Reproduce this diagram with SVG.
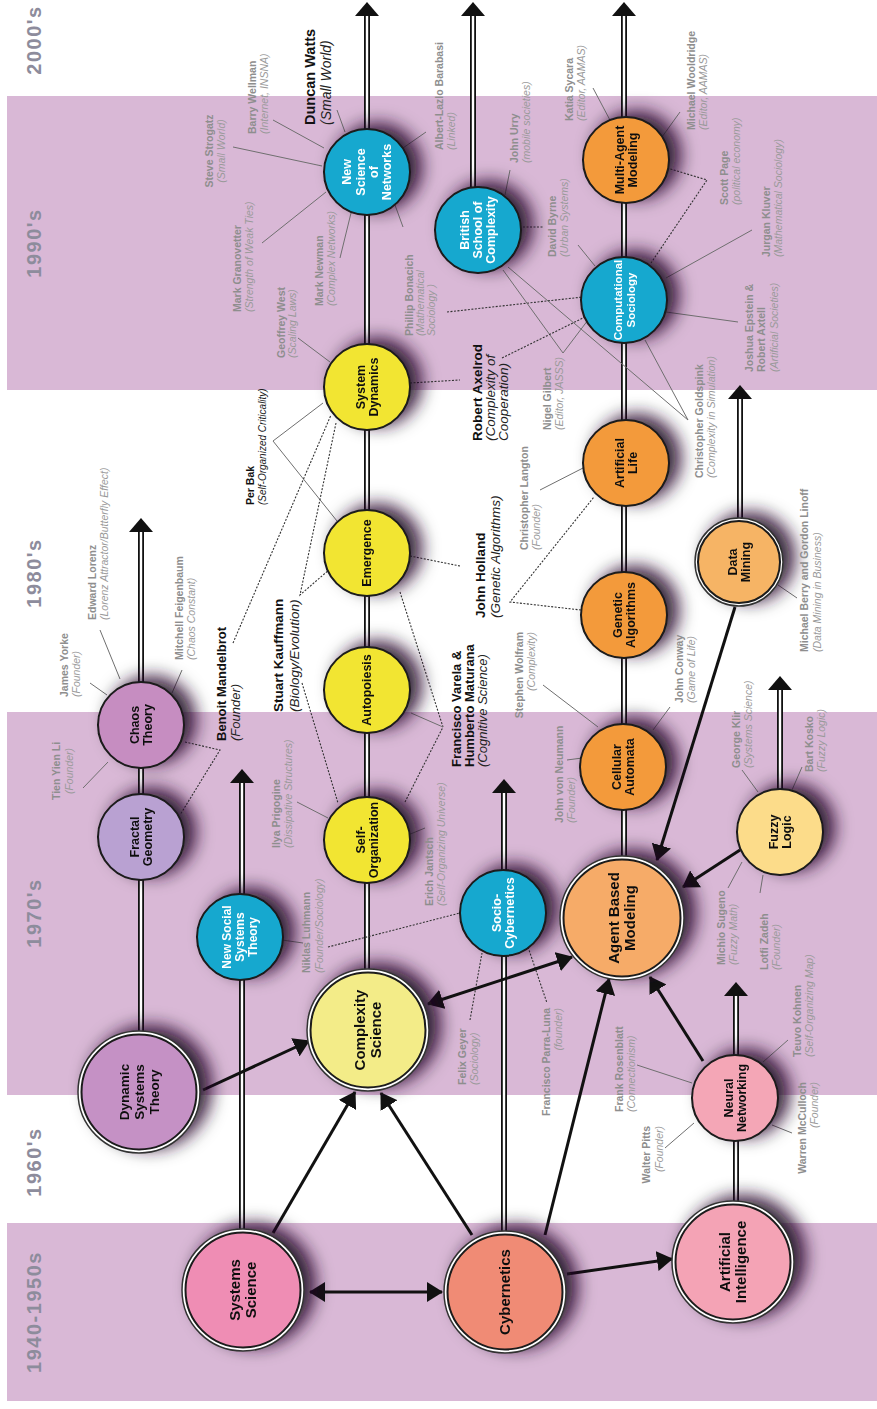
<svg xmlns="http://www.w3.org/2000/svg" xmlns:xlink="http://www.w3.org/1999/xlink" width="877" height="1409" viewBox="0 0 877 1409">
<style>
.band{fill:#d9b8d6}
.dec{font-family:"Liberation Sans",Arial,sans-serif;font-weight:bold;font-size:20px;fill:#8d8c9c;text-anchor:middle;letter-spacing:1.5px}
.trk{stroke:#111;stroke-width:6}
.trw{stroke:#fff;stroke-width:2.4}
.thick{stroke:#111;stroke-width:3;fill:none}
.lk{stroke:#6f6f6f;stroke-width:1;fill:none}
.ld{stroke:#333;stroke-width:1.1;stroke-dasharray:2 1.5;fill:none}
.nt{font-family:"Liberation Sans",Arial,sans-serif;font-weight:bold;font-size:12.5px;text-anchor:middle;fill:#111}
.big .nt{font-size:15px}
.w{fill:#fff}
.ring{fill:#fff;stroke:#333;stroke-width:1.5}
.inn{stroke:#1a1a1a;stroke-width:2}
.pn{font-family:"Liberation Sans",Arial,sans-serif;font-weight:bold;font-size:10.5px;fill:#8e8e8e}
.ps{font-family:"Liberation Sans",Arial,sans-serif;font-style:italic;font-size:10.5px;fill:#9a9a9a}
.bn{font-family:"Liberation Sans",Arial,sans-serif;font-weight:bold;font-size:13.5px;fill:#111}
.bs{font-family:"Liberation Sans",Arial,sans-serif;font-style:italic;font-size:13.5px;fill:#222}
.am{text-anchor:middle}
.ae{text-anchor:end}
</style>
<defs>
<filter id="sh" x="-70%" y="-70%" width="240%" height="240%">
<feGaussianBlur in="SourceAlpha" stdDeviation="8.5"/>
<feOffset dx="11" dy="-5" result="b"/>
<feFlood flood-color="#220a26" flood-opacity="0.9"/>
<feComposite in2="b" operator="in"/>
<feMerge><feMergeNode/><feMergeNode in="SourceGraphic"/></feMerge>
</filter>
<path id="tip" d="M0,0 L12,14 L-12,14 Z" fill="#111"/>
<marker id="ah" viewBox="0 0 16 20" refX="15" refY="10" markerWidth="16" markerHeight="20" markerUnits="userSpaceOnUse" orient="auto-start-reverse">
<path d="M0,0 L16,10 L0,20 Z" fill="#111"/>
</marker>
</defs>

<g id="background">
<rect x="0" y="0" width="877" height="1409" fill="#fff"/>
<rect class="band" x="7" y="96" width="870" height="294"/>
<rect class="band" x="7" y="712" width="870" height="383"/>
<rect class="band" x="7" y="1223" width="870" height="178"/>
<text class="dec" transform="translate(41,40) rotate(-90)">2000's</text>
<text class="dec" transform="translate(41,243) rotate(-90)">1990's</text>
<text class="dec" transform="translate(41,573) rotate(-90)">1980's</text>
<text class="dec" transform="translate(41,913) rotate(-90)">1970's</text>
<text class="dec" transform="translate(41,1162) rotate(-90)">1960's</text>
<text class="dec" transform="translate(41,1312) rotate(-90)">1940-1950s</text>
</g>

<g id="connectors">
<g id="tracks">
<line class="trk" x1="141" y1="1040" x2="141" y2="531"/><line class="trw" x1="141" y1="1040" x2="141" y2="531"/><use href="#tip" x="141" y="518"/>
<line class="trk" x1="242" y1="1235" x2="242" y2="782"/><line class="trw" x1="242" y1="1235" x2="242" y2="782"/><use href="#tip" x="242" y="769"/>
<line class="trk" x1="367" y1="975" x2="367" y2="15"/><line class="trw" x1="367" y1="975" x2="367" y2="15"/><use href="#tip" x="367" y="2"/>
<line class="trk" x1="504" y1="1235" x2="504" y2="792"/><line class="trw" x1="504" y1="1235" x2="504" y2="792"/><use href="#tip" x="504" y="779"/>
<line class="trk" x1="473" y1="200" x2="473" y2="15"/><line class="trw" x1="473" y1="200" x2="473" y2="15"/><use href="#tip" x="473" y="2"/>
<line class="trk" x1="624" y1="860" x2="624" y2="15"/><line class="trw" x1="624" y1="860" x2="624" y2="15"/><use href="#tip" x="624" y="2"/>
<line class="trk" x1="740" y1="525" x2="740" y2="398"/><line class="trw" x1="740" y1="525" x2="740" y2="398"/><use href="#tip" x="740" y="385"/>
<line class="trk" x1="780" y1="795" x2="780" y2="689"/><line class="trw" x1="780" y1="795" x2="780" y2="689"/><use href="#tip" x="780" y="676"/>
<line class="trk" x1="736" y1="1205" x2="736" y2="995"/><line class="trw" x1="736" y1="1205" x2="736" y2="995"/><use href="#tip" x="736" y="982"/>
</g>
<g id="links">
<line class="lk" x1="337" y1="110" x2="345" y2="132"/>
<line class="lk" x1="273" y1="120" x2="324" y2="148"/>
<line class="lk" x1="233" y1="147" x2="322" y2="166"/>
<line class="lk" x1="262" y1="243" x2="326" y2="192"/>
<line class="lk" x1="340" y1="258" x2="351" y2="213"/>
<line class="lk" x1="426" y1="132" x2="403" y2="148"/>
<line class="lk" x1="395" y1="205" x2="403" y2="227"/>
<line class="ld" x1="447" y1="312" x2="583" y2="297"/>
<line class="lk" x1="298" y1="338" x2="330" y2="362"/>
<line class="lk" x1="510" y1="170" x2="505" y2="195"/>
<line class="lk" x1="593" y1="88" x2="611" y2="122"/>
<line class="lk" x1="680" y1="112" x2="662" y2="137"/>
<polyline class="ld" points="667,168 707,180 651,263"/>
<line class="lk" x1="752" y1="230" x2="666" y2="278"/>
<line class="lk" x1="738" y1="322" x2="666" y2="312"/>
<line class="ld" x1="523" y1="227" x2="543" y2="227"/>
<line class="lk" x1="578" y1="245" x2="595" y2="266"/>
<polyline class="lk" points="503,270 563,353 588,320"/>
<polyline class="lk" points="508,267 688,420 645,340"/>
<line class="ld" x1="410" y1="383" x2="460" y2="380"/>
<line class="ld" x1="502" y1="358" x2="585" y2="317"/>
<line class="lk" x1="540" y1="490" x2="585" y2="467"/>
<line class="ld" x1="410" y1="556" x2="460" y2="566"/>
<polyline class="ld" points="581,610 510,602 594,497"/>
<line class="lk" x1="778" y1="585" x2="797" y2="598"/>
<polyline class="lk" points="323,403 273,441 337,521"/>
<line class="ld" x1="233" y1="643" x2="331" y2="415"/>
<polyline class="ld" points="185,742 220,750 180,815"/>
<polyline class="ld" points="336,423 300,595 330,569"/>
<line class="ld" x1="302" y1="683" x2="338" y2="803"/>
<line class="ld" x1="400" y1="592" x2="443" y2="727"/>
<line class="lk" x1="411" y1="713" x2="443" y2="727"/>
<line class="ld" x1="405" y1="802" x2="443" y2="727"/>
<line class="lk" x1="297" y1="802" x2="328" y2="818"/>
<line class="lk" x1="408" y1="835" x2="425" y2="828"/>
<line class="lk" x1="282" y1="940" x2="303" y2="943"/>
<line class="ld" x1="328" y1="947" x2="460" y2="913"/>
<line class="ld" x1="470" y1="1020" x2="482" y2="953"/>
<line class="ld" x1="528" y1="947" x2="547" y2="1003"/>
<line class="lk" x1="543" y1="685" x2="598" y2="727"/>
<line class="lk" x1="567" y1="760" x2="582" y2="758"/>
<line class="lk" x1="670" y1="707" x2="653" y2="730"/>
<line class="lk" x1="742" y1="770" x2="758" y2="792"/>
<line class="lk" x1="802" y1="767" x2="792" y2="790"/>
<line class="lk" x1="728" y1="888" x2="742" y2="862"/>
<line class="lk" x1="760" y1="893" x2="763" y2="875"/>
<line class="lk" x1="788" y1="1040" x2="763" y2="1062"/>
<line class="lk" x1="637" y1="1065" x2="692" y2="1083"/>
<line class="lk" x1="665" y1="1148" x2="694" y2="1123"/>
<line class="lk" x1="792" y1="1133" x2="772" y2="1125"/>
<line class="lk" x1="83" y1="788" x2="108" y2="762"/>
<line class="lk" x1="90" y1="683" x2="107" y2="695"/>
<line class="lk" x1="100" y1="630" x2="120" y2="679"/>
<line class="lk" x1="182" y1="670" x2="172" y2="693"/>
</g>
<g id="arrows">
<line class="thick" x1="310" y1="1292" x2="442" y2="1292" marker-start="url(#ah)" marker-end="url(#ah)"/>
<line class="thick" x1="273" y1="1233" x2="355" y2="1092" marker-end="url(#ah)"/>
<line class="thick" x1="472" y1="1235" x2="381" y2="1093" marker-end="url(#ah)"/>
<line class="thick" x1="203" y1="1090" x2="309" y2="1041" marker-end="url(#ah)"/>
<line class="thick" x1="428" y1="1004" x2="572" y2="957" marker-start="url(#ah)" marker-end="url(#ah)"/>
<line class="thick" x1="545" y1="1235" x2="609" y2="979" marker-end="url(#ah)"/>
<line class="thick" x1="703" y1="1061" x2="650" y2="977" marker-end="url(#ah)"/>
<line class="thick" x1="567" y1="1274" x2="672" y2="1259" marker-end="url(#ah)"/>
<line class="thick" x1="735" y1="607" x2="657" y2="860" marker-end="url(#ah)"/>
<line class="thick" x1="740" y1="850" x2="683" y2="887" marker-end="url(#ah)"/>
</g>
</g>

<g id="nodes">
<g id="n-networks" filter="url(#sh)"><circle class="inn" cx="367" cy="172" r="43" fill="#15a8cf"/><text class="nt w" transform="translate(367,172) rotate(-90)"><tspan x="0" y="-15.8">New</tspan><tspan x="0" y="-2.5">Science</tspan><tspan x="0" y="10.9">of</tspan><tspan x="0" y="24.2">Networks</tspan></text></g>
<g id="n-british" filter="url(#sh)"><circle class="inn" cx="478" cy="230" r="43" fill="#15a8cf"/><text class="nt w" transform="translate(478,230) rotate(-90)"><tspan x="0" y="-8.8">British</tspan><tspan x="0" y="4.2">School of</tspan><tspan x="0" y="17.2">Complexity</tspan></text></g>
<g id="n-multiagent" filter="url(#sh)"><circle class="inn" cx="626" cy="160" r="43" fill="#f39a3b"/><text class="nt" transform="translate(626,160) rotate(-90)"><tspan x="0" y="-2.3">Multi-Agent</tspan><tspan x="0" y="10.7">Modeling</tspan></text></g>
<g id="n-compsoc" filter="url(#sh)"><circle class="inn" cx="624" cy="300" r="43" fill="#15a8cf"/><text class="nt w" style="font-size:11.5px" transform="translate(624,300) rotate(-90)"><tspan x="0" y="-2.3">Computational</tspan><tspan x="0" y="10.7">Sociology</tspan></text></g>
<g id="n-sysdyn" filter="url(#sh)"><circle class="inn" cx="367" cy="387" r="43" fill="#f2e533"/><text class="nt" transform="translate(367,387) rotate(-90)"><tspan x="0" y="-2.3">System</tspan><tspan x="0" y="10.7">Dynamics</tspan></text></g>
<g id="n-emergence" filter="url(#sh)"><circle class="inn" cx="367" cy="553" r="43" fill="#f2e533"/><text class="nt" transform="translate(367,553) rotate(-90)"><tspan x="0" y="4.4">Emergence</tspan></text></g>
<g id="n-autopoiesis" filter="url(#sh)"><circle class="inn" cx="367" cy="690" r="43" fill="#f2e533"/><text class="nt" transform="translate(367,690) rotate(-90)"><tspan x="0" y="4.4">Autopoiesis</tspan></text></g>
<g id="n-selforg" filter="url(#sh)"><circle class="inn" cx="367" cy="840" r="43" fill="#f2e533"/><text class="nt" transform="translate(367,840) rotate(-90)"><tspan x="0" y="-2.3">Self-</tspan><tspan x="0" y="10.7">Organization</tspan></text></g>
<g id="n-chaos" filter="url(#sh)"><circle class="inn" cx="141" cy="725" r="43" fill="#c68dc1"/><text class="nt" transform="translate(141,725) rotate(-90)"><tspan x="0" y="-2.3">Chaos</tspan><tspan x="0" y="10.7">Theory</tspan></text></g>
<g id="n-fractal" filter="url(#sh)"><circle class="inn" cx="141" cy="837" r="43" fill="#b9a1d2"/><text class="nt" transform="translate(141,837) rotate(-90)"><tspan x="0" y="-2.3">Fractal</tspan><tspan x="0" y="10.7">Geometry</tspan></text></g>
<g id="n-newsocial" filter="url(#sh)"><circle class="inn" cx="240" cy="937" r="43" fill="#15a8cf"/><text class="nt w" style="font-size:12px" transform="translate(240,937) rotate(-90)"><tspan x="0" y="-8.8">New Social</tspan><tspan x="0" y="4.2">Systems</tspan><tspan x="0" y="17.2">Theory</tspan></text></g>
<g id="n-sociocyb" filter="url(#sh)"><circle class="inn" cx="503" cy="913" r="43" fill="#15a8cf"/><text class="nt w" transform="translate(503,913) rotate(-90)"><tspan x="0" y="-2.3">Socio-</tspan><tspan x="0" y="10.7">Cybernetics</tspan></text></g>
<g id="n-cellular" filter="url(#sh)"><circle class="inn" cx="623" cy="767" r="43" fill="#f39a3b"/><text class="nt" transform="translate(623,767) rotate(-90)"><tspan x="0" y="-2.3">Cellular</tspan><tspan x="0" y="10.7">Automata</tspan></text></g>
<g id="n-fuzzy" filter="url(#sh)"><circle class="inn" cx="780" cy="832" r="43" fill="#fcdc8a"/><text class="nt" transform="translate(780,832) rotate(-90)"><tspan x="0" y="-2.3">Fuzzy</tspan><tspan x="0" y="10.7">Logic</tspan></text></g>
<g id="n-genetic" filter="url(#sh)"><circle class="inn" cx="624" cy="615" r="43" fill="#f39a3b"/><text class="nt" transform="translate(624,615) rotate(-90)"><tspan x="0" y="-2.3">Genetic</tspan><tspan x="0" y="10.7">Algorithms</tspan></text></g>
<g id="n-alife" filter="url(#sh)"><circle class="inn" cx="626" cy="463" r="43" fill="#f39a3b"/><text class="nt" transform="translate(626,463) rotate(-90)"><tspan x="0" y="-2.3">Artificial</tspan><tspan x="0" y="10.7">Life</tspan></text></g>
<g id="n-datamining" filter="url(#sh)"><circle class="ring" cx="739" cy="562" r="44"/><circle class="inn" cx="739" cy="562" r="41" fill="#f6b465"/><text class="nt" transform="translate(739,562) rotate(-90)"><tspan x="0" y="-2.3">Data</tspan><tspan x="0" y="10.7">Mining</tspan></text></g>
<g id="n-neural" filter="url(#sh)"><circle class="inn" cx="735" cy="1098" r="43" fill="#f4a6b6"/><text class="nt" transform="translate(735,1098) rotate(-90)"><tspan x="0" y="-2.3">Neural</tspan><tspan x="0" y="10.7">Networking</tspan></text></g>
<g id="n-complexity" class="big" filter="url(#sh)"><circle class="ring" cx="368" cy="1030" r="61"/><circle class="inn" cx="368" cy="1030" r="57.5" fill="#f3ec88"/><text class="nt" transform="translate(368,1030) rotate(-90)"><tspan x="0" y="-3">Complexity</tspan><tspan x="0" y="13">Science</tspan></text></g>
<g id="n-abm" class="big" filter="url(#sh)"><circle class="ring" cx="622" cy="918" r="62"/><circle class="inn" cx="622" cy="918" r="58.5" fill="#f6ab68"/><text class="nt" transform="translate(622,918) rotate(-90)"><tspan x="0" y="-3">Agent Based</tspan><tspan x="0" y="13">Modeling</tspan></text></g>
<g id="n-dst" class="big" filter="url(#sh)"><circle class="ring" cx="139" cy="1092" r="61"/><circle class="inn" cx="139" cy="1092" r="57.5" fill="#c591c5"/><text class="nt" style="font-size:13.5px" transform="translate(139,1092) rotate(-90)"><tspan x="0" y="-10.3">Dynamic</tspan><tspan x="0" y="4.7">Systems</tspan><tspan x="0" y="19.7">Theory</tspan></text></g>
<g id="n-systems" class="big" filter="url(#sh)"><circle class="ring" cx="243" cy="1290" r="61"/><circle class="inn" cx="243" cy="1290" r="57.5" fill="#ef8db4"/><text class="nt" transform="translate(243,1290) rotate(-90)"><tspan x="0" y="-3">Systems</tspan><tspan x="0" y="13">Science</tspan></text></g>
<g id="n-cybernetics" class="big" filter="url(#sh)"><circle class="ring" cx="505" cy="1292" r="61"/><circle class="inn" cx="505" cy="1292" r="57.5" fill="#f08b74"/><text class="nt" transform="translate(505,1292) rotate(-90)"><tspan x="0" y="5">Cybernetics</tspan></text></g>
<g id="n-ai" class="big" filter="url(#sh)"><circle class="ring" cx="733" cy="1262" r="61"/><circle class="inn" cx="733" cy="1262" r="57.5" fill="#f4a3b5"/><text class="nt" transform="translate(733,1262) rotate(-90)"><tspan x="0" y="-3">Artificial</tspan><tspan x="0" y="13">Intelligence</tspan></text></g>
</g>

<g id="labels">
<g transform="translate(256,134) rotate(-90)"><text class="pn">Barry Wellman</text><text class="ps" y="12">(Internet, INSNA)</text></g>
<g class="am" transform="translate(213,151) rotate(-90)"><text class="pn">Steve Strogatz</text><text class="ps" y="12">(Small World)</text></g>
<g transform="translate(241,312) rotate(-90)"><text class="pn">Mark Granovetter</text><text class="ps" y="12">(Strength of Weak Ties)</text></g>
<g transform="translate(323,306) rotate(-90)"><text class="pn">Mark Newman</text><text class="ps" y="12">(Complex Networks)</text></g>
<g transform="translate(285,358) rotate(-90)"><text class="pn">Geoffrey West</text><text class="ps" y="11">(Scaling Laws)</text></g>
<g transform="translate(413,336) rotate(-90)"><text class="pn">Phillip Bonacich</text><text class="ps" y="11">(Mathematical</text><text class="ps" y="22">Sociology )</text></g>
<g transform="translate(443,150) rotate(-90)"><text class="pn">Albert-Lazlo Barabasi</text><text class="ps" y="12">(Linked)</text></g>
<g transform="translate(518,163) rotate(-90)"><text class="pn">John Urry</text><text class="ps" y="12">(mobile societies)</text></g>
<g transform="translate(573,121) rotate(-90)"><text class="pn">Katia Sycara</text><text class="ps" y="12">(Editor, AAMAS)</text></g>
<g transform="translate(695,130) rotate(-90)"><text class="pn">Michael Wooldridge</text><text class="ps" y="12">(Editor, AAMAS)</text></g>
<g transform="translate(556,257) rotate(-90)"><text class="pn">David Byrne</text><text class="ps" y="12">(Urban Systems)</text></g>
<g transform="translate(728,205) rotate(-90)"><text class="pn">Scott Page</text><text class="ps" y="12">(political economy)</text></g>
<g transform="translate(770,257) rotate(-90)"><text class="pn">Jurgan Kluver</text><text class="ps" y="12">(Mathematical Sociology)</text></g>
<g transform="translate(753,372) rotate(-90)"><text class="pn">Joshua Epstein &amp;</text><text class="pn" y="12">Robert Axtell</text><text class="ps" y="25">(Artificial Societies)</text></g>
<g transform="translate(551,430) rotate(-90)"><text class="pn">Nigel Gilbert</text><text class="ps" y="12">(Editor, JASSS)</text></g>
<g transform="translate(703,478) rotate(-90)"><text class="pn">Christopher Goldspink</text><text class="ps" y="12">(Complexity in Simulation)</text></g>
<g transform="translate(528,550) rotate(-90)"><text class="pn">Christopher Langton</text><text class="ps" y="12">(Founder)</text></g>
<g transform="translate(808,652) rotate(-90)"><text class="pn">Michael Berry and Gordon Linoff</text><text class="ps" y="13">(Data Mining in Business)</text></g>
<g class="ae" transform="translate(523,632) rotate(-90)"><text class="pn">Stephen Wolfram</text><text class="ps" y="12">(Complexity)</text></g>
<g transform="translate(563,823) rotate(-90)"><text class="pn">John von Neumann</text><text class="ps" y="12">(Founder)</text></g>
<g transform="translate(683,703) rotate(-90)"><text class="pn">John Conway</text><text class="ps" y="12">(Game of Life)</text></g>
<g transform="translate(740,768) rotate(-90)"><text class="pn">George Klir</text><text class="ps" y="12">(Systems Science)</text></g>
<g transform="translate(813,772) rotate(-90)"><text class="pn">Bart Kosko</text><text class="ps" y="12">(Fuzzy Logic)</text></g>
<g transform="translate(725,965) rotate(-90)"><text class="pn">Michio Sugeno</text><text class="ps" y="12">(Fuzzy Math)</text></g>
<g transform="translate(768,970) rotate(-90)"><text class="pn">Lotfi Zadeh</text><text class="ps" y="12">(Founder)</text></g>
<g transform="translate(801,1057) rotate(-90)"><text class="pn">Teuvo Kohnen</text><text class="ps" y="12">(Self-Organizing Map)</text></g>
<g transform="translate(623,1112) rotate(-90)"><text class="pn">Frank Rosenblatt</text><text class="ps" y="12">(Connectionism)</text></g>
<g class="ae" transform="translate(650,1126) rotate(-90)"><text class="pn">Walter Pitts</text><text class="ps" y="13">(Founder)</text></g>
<g class="ae" transform="translate(806,1082) rotate(-90)"><text class="pn">Warren McCulloch</text><text class="ps" y="12">(Founder)</text></g>
<g class="am" transform="translate(60,771) rotate(-90)"><text class="pn">Tien Yien Li</text><text class="ps" y="13">(Founder)</text></g>
<g transform="translate(68,697) rotate(-90)"><text class="pn">James Yorke</text><text class="ps" y="12">(Founder)</text></g>
<g transform="translate(96,620) rotate(-90)"><text class="pn">Edward Lorenz</text><text class="ps" y="12">(Lorenz Attractor/Butterfly Effect)</text></g>
<g transform="translate(183,660) rotate(-90)"><text class="pn">Mitchell Feigenbaum</text><text class="ps" y="12">(Chaos Constant)</text></g>
<g transform="translate(280,848) rotate(-90)"><text class="pn">Ilya Prigogine</text><text class="ps" y="12">(Dissipative Structures)</text></g>
<g transform="translate(433,906) rotate(-90)"><text class="pn">Erich Jantsch</text><text class="ps" y="12">(Self-Organizing Universe)</text></g>
<g transform="translate(310,973) rotate(-90)"><text class="pn">Niklas Luhmann</text><text class="ps" y="13">(Founder/Sociology)</text></g>
<g transform="translate(466,1085) rotate(-90)"><text class="pn">Felix Geyer</text><text class="ps" y="12">(Sociology)</text></g>
<g class="ae" transform="translate(550,1008) rotate(-90)"><text class="pn">Francisco Parra-Luna</text><text class="ps" y="12">(founder)</text></g>

<g transform="translate(315,125) rotate(-90)"><text class="bn" style="font-size:14.5px">Duncan Watts</text><text class="bs" style="font-size:14px" y="16">(Small World)</text></g>
<g transform="translate(481.5,441) rotate(-90)"><text class="bn">Robert Axelrod</text><text class="bs" y="13">(Complexity of</text><text class="bs" y="26">Cooperation)</text></g>
<g transform="translate(484.5,618) rotate(-90)"><text class="bn">John Holland</text><text class="bs" y="15">(Genetic Algorithms)</text></g>
<g transform="translate(253.5,505) rotate(-90)"><text class="bn" style="font-size:10.5px">Per Bak</text><text class="bs" style="font-size:10px" y="12">(Self-Organized Criticality)</text></g>
<g transform="translate(226,741) rotate(-90)"><text class="bn" style="font-size:13px">Benoit Mandelbrot</text><text class="bs" style="font-size:13px" y="14">(Founder)</text></g>
<g transform="translate(282.5,712) rotate(-90)"><text class="bn">Stuart Kauffmann</text><text class="bs" y="16">(Biology/Evolution)</text></g>
<g transform="translate(461,767) rotate(-90)"><text class="bn" style="font-size:13px">Francisco Varela &amp;</text><text class="bn" style="font-size:13px" y="13">Humberto Maturana</text><text class="bs" style="font-size:13px" y="26">(Cognitive Science)</text></g>
</g>
</svg>
